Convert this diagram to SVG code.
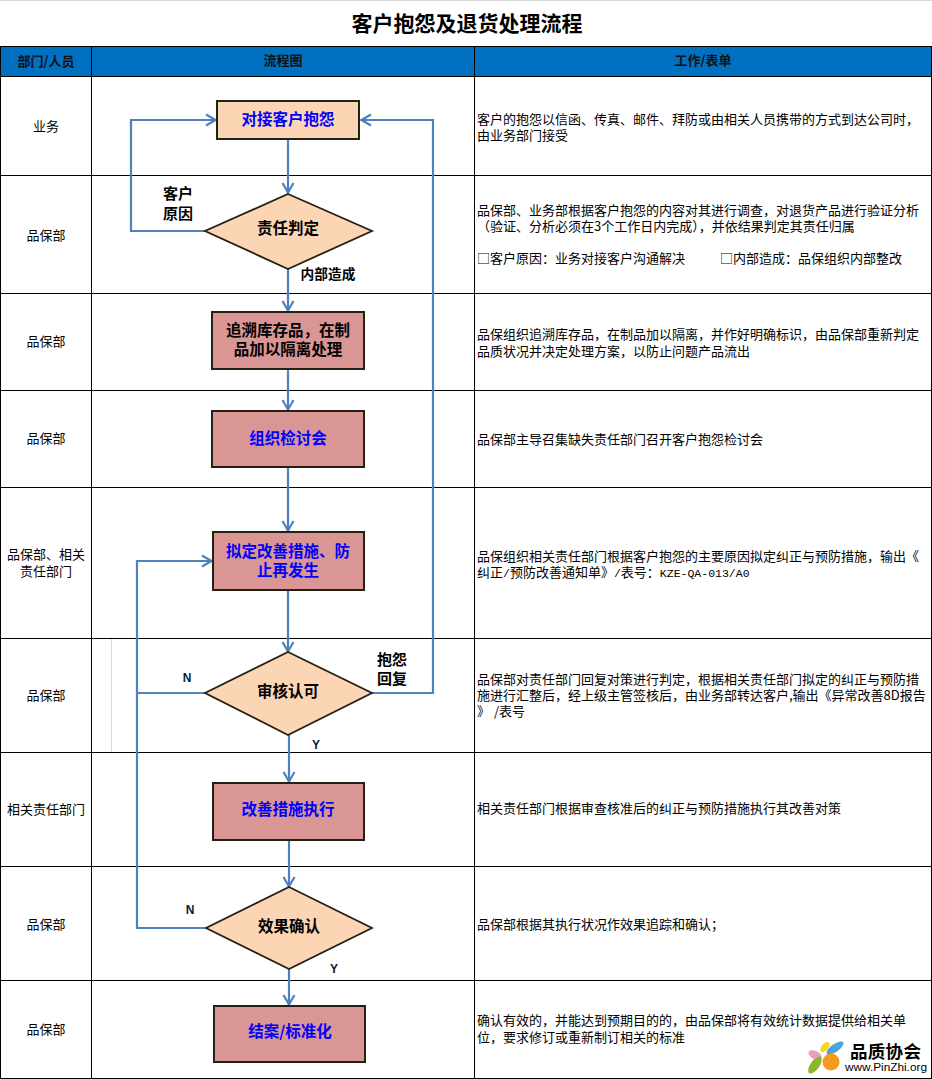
<svg xmlns="http://www.w3.org/2000/svg" width="932" height="1079" viewBox="0 0 932 1079">
<style>
text{font-family:"Noto Sans CJK SC","Liberation Sans",sans-serif;fill:#000}
.grid{stroke:#000;stroke-width:1;fill:none}
.dept{font-size:13px;text-anchor:middle}
.desc{font-size:13px}
.mono{font-family:"Liberation Mono","Noto Sans CJK SC",monospace;font-size:11.5px}
.head{font-size:13px;font-weight:700;text-anchor:middle;fill:#111}
.nl{font-size:15.5px;font-weight:700;text-anchor:middle}
.blue{fill:#0000ff}
.lab{font-size:15px;font-weight:700;text-anchor:middle}
.yn{font-family:"Liberation Sans",sans-serif;font-size:12px;font-weight:700;text-anchor:middle;fill:#0a1a3a}
.start{fill:#fcd5b4;stroke:#262013;stroke-width:2}
.red{fill:#d99694;stroke:#262013;stroke-width:2}
.dia{fill:#fcd5b4;stroke:#262013;stroke-width:1.8}
.con{stroke:#4f81bd;stroke-width:2.2;fill:none}
</style>
<defs>
<marker id="arr" markerUnits="userSpaceOnUse" markerWidth="14" markerHeight="14" viewBox="0 0 14 14" refX="13" refY="7" orient="auto">
<path d="M3 1.5L12.5 7L3 12.5" fill="none" stroke="#4f81bd" stroke-width="2.2"/>
</marker>
</defs>
<rect width="932" height="1079" fill="#fff"/>
<rect x="0" y="0" width="932" height="1" fill="#d9d9d9"/>
<g id="table">
<rect x="1" y="47" width="930" height="29" fill="#0070c0"/>
<path class="grid" d="M0.5 46.5H931.5M0.5 76.5H931.5M0.5 175.5H931.5M0.5 293.5H931.5M0.5 390.5H931.5M0.5 487.5H931.5M0.5 638.5H931.5M0.5 752.5H931.5M0.5 866.5H931.5M0.5 980.5H931.5M0.5 1078.5H931.5M0.5 46V1079M91.5 46V1079M474.5 46V1079M931.5 46V1079"/>
<path d="M111.5 639V752" stroke="#d9d9d9" stroke-width="1"/>
</g>
<text x="467" y="31" font-size="21" font-weight="700" text-anchor="middle">客户抱怨及退货处理流程</text>
<g id="headers">
<text class="head" x="46" y="66">部门/人员</text>
<text class="head" x="283" y="65">流程图</text>
<text class="head" x="703" y="65">工作/表单</text>
</g>
<g id="departments">
<text class="dept" x="46" y="131">业务</text>
<text class="dept" x="46" y="240">品保部</text>
<text class="dept" x="46" y="346">品保部</text>
<text class="dept" x="46" y="443">品保部</text>
<text class="dept" x="46" y="559">品保部、相关</text>
<text class="dept" x="46" y="576">责任部门</text>
<text class="dept" x="46" y="700">品保部</text>
<text class="dept" x="46" y="814">相关责任部门</text>
<text class="dept" x="46" y="929">品保部</text>
<text class="dept" x="46" y="1034">品保部</text>
</g>
<g id="descriptions">
<text class="desc" x="477" y="124">客户的抱怨以信函、传真、邮件、拜防或由相关人员携带的方式到达公司时，</text>
<text class="desc" x="477" y="140">由业务部门接受</text>
<text class="desc" x="477" y="215">品保部、业务部根据客户抱怨的内容对其进行调查，对退货产品进行验证分析</text>
<text class="desc" x="477" y="231">（验证、分析必须在3个工作日内完成），并依结果判定其责任归属</text>
<text class="desc" x="477" y="263">□客户原因：业务对接客户沟通解决</text>
<text class="desc" x="720" y="263">□内部造成：品保组织内部整改</text>
<text class="desc" x="477" y="339">品保组织追溯库存品，在制品加以隔离，并作好明确标识，由品保部重新判定</text>
<text class="desc" x="477" y="356">品质状况并决定处理方案，以防止问题产品流出</text>
<text class="desc" x="477" y="444">品保部主导召集缺失责任部门召开客户抱怨检讨会</text>
<text class="desc" x="477" y="561">品保组织相关责任部门根据客户抱怨的主要原因拟定纠正与预防措施，输出《</text>
<text class="desc" x="477" y="577">纠正<tspan class="mono">/</tspan>预防改善通知单》<tspan class="mono">/</tspan>表号：<tspan class="mono">KZE-QA-013/A0</tspan></text>
<text class="desc" x="477" y="684">品保部对责任部门回复对策进行判定，根据相关责任部门拟定的纠正与预防措</text>
<text class="desc" x="477" y="700">施进行汇整后，经上级主管签核后，由业务部转达客户,输出《异常改善8D报告</text>
<text class="desc" x="477" y="716">》<tspan dx="4">/表号</tspan></text>
<text class="desc" x="477" y="813">相关责任部门根据审查核准后的纠正与预防措施执行其改善对策</text>
<text class="desc" x="477" y="929">品保部根据其执行状况作效果追踪和确认；</text>
<text class="desc" x="477" y="1025">确认有效的，并能达到预期目的的，由品保部将有效统计数据提供给相关单</text>
<text class="desc" x="477" y="1042">位，要求修订或重新制订相关的标准</text>
</g>
<g id="connectors">
<path class="con" marker-end="url(#arr)" d="M288 139V193"/>
<path class="con" marker-end="url(#arr)" d="M205 231H131V120H216"/>
<path class="con" marker-end="url(#arr)" d="M288 269V311"/>
<path class="con" marker-end="url(#arr)" d="M288 369V410"/>
<path class="con" marker-end="url(#arr)" d="M288 467V531"/>
<path class="con" marker-end="url(#arr)" d="M288 590V652"/>
<path class="con" marker-end="url(#arr)" d="M372 693H433V120H361"/>
<path class="con" marker-end="url(#arr)" d="M205 693H137V561H212"/>
<path class="con" d="M137 693V928H205"/>
<path class="con" marker-end="url(#arr)" d="M289 735V782"/>
<path class="con" marker-end="url(#arr)" d="M289 840V887"/>
<path class="con" marker-end="url(#arr)" d="M289 969V1005"/>
</g>
<g id="n1"><rect class="start" x="217" y="101" width="142" height="38"/><text class="nl blue" x="288" y="125">对接客户抱怨</text></g>
<g id="n2"><path class="dia" d="M288 194L372 231L288 269L205 231Z"/><text class="nl" x="288" y="234">责任判定</text></g>
<g id="n3"><rect class="red" x="212" y="312" width="152" height="57"/><text class="nl" x="288" y="336">追溯库存品，在制</text><text class="nl" x="288" y="355">品加以隔离处理</text></g>
<g id="n4"><rect class="red" x="212" y="411" width="152" height="56"/><text class="nl blue" x="288" y="444">组织检讨会</text></g>
<g id="n5"><rect class="red" x="213" y="532" width="151" height="58"/><text class="nl blue" x="288" y="557">拟定改善措施、防</text><text class="nl blue" x="288" y="576">止再发生</text></g>
<g id="n6"><path class="dia" d="M288 652L372 693L288 735L205 693Z"/><text class="nl" x="288" y="697">审核认可</text></g>
<g id="n7"><rect class="red" x="213" y="783" width="151" height="57"/><text class="nl blue" x="288" y="815">改善措施执行</text></g>
<g id="n8"><path class="dia" d="M289 887L372 928L289 969L206 928Z"/><text class="nl" x="289" y="932">效果确认</text></g>
<g id="n9"><rect class="red" x="214" y="1006" width="151" height="56"/><text class="nl blue" x="290" y="1037">结案/标准化</text></g>
<g id="labels">
<text class="lab" x="178" y="199">客户</text>
<text class="lab" x="178" y="219">原因</text>
<text x="328" y="279" font-size="13.7" font-weight="700" text-anchor="middle">内部造成</text>
<text class="lab" x="392" y="665">抱怨</text>
<text class="lab" x="392" y="684">回复</text>
<text class="yn" x="187" y="682">N</text>
<text class="yn" x="316" y="749">Y</text>
<text class="yn" x="190" y="914">N</text>
<text class="yn" x="334" y="973">Y</text>
</g>
<g id="logo">
<ellipse cx="815" cy="1055" rx="7" ry="4" fill="#e8a0c0" transform="rotate(25 815 1055)"/>
<ellipse cx="825" cy="1047" rx="6" ry="3.5" fill="#f5d820" transform="rotate(-50 825 1047)"/>
<ellipse cx="835" cy="1048" rx="10" ry="4" fill="#4aa6d8" transform="rotate(-35 835 1048)"/>
<ellipse cx="815" cy="1065" rx="10" ry="4.5" fill="#8ab82a" transform="rotate(-55 815 1065)"/>
<circle cx="831" cy="1062" r="8.5" fill="#f59a1c"/>
<text x="850" y="1058" font-size="17.5" font-weight="700" letter-spacing="0.3" fill="#333">品质协会</text>
<text x="845" y="1071" font-size="11.8" fill="#222" style="font-family:'Liberation Sans',sans-serif">www.PinZhi.org</text>
</g>
</svg>
